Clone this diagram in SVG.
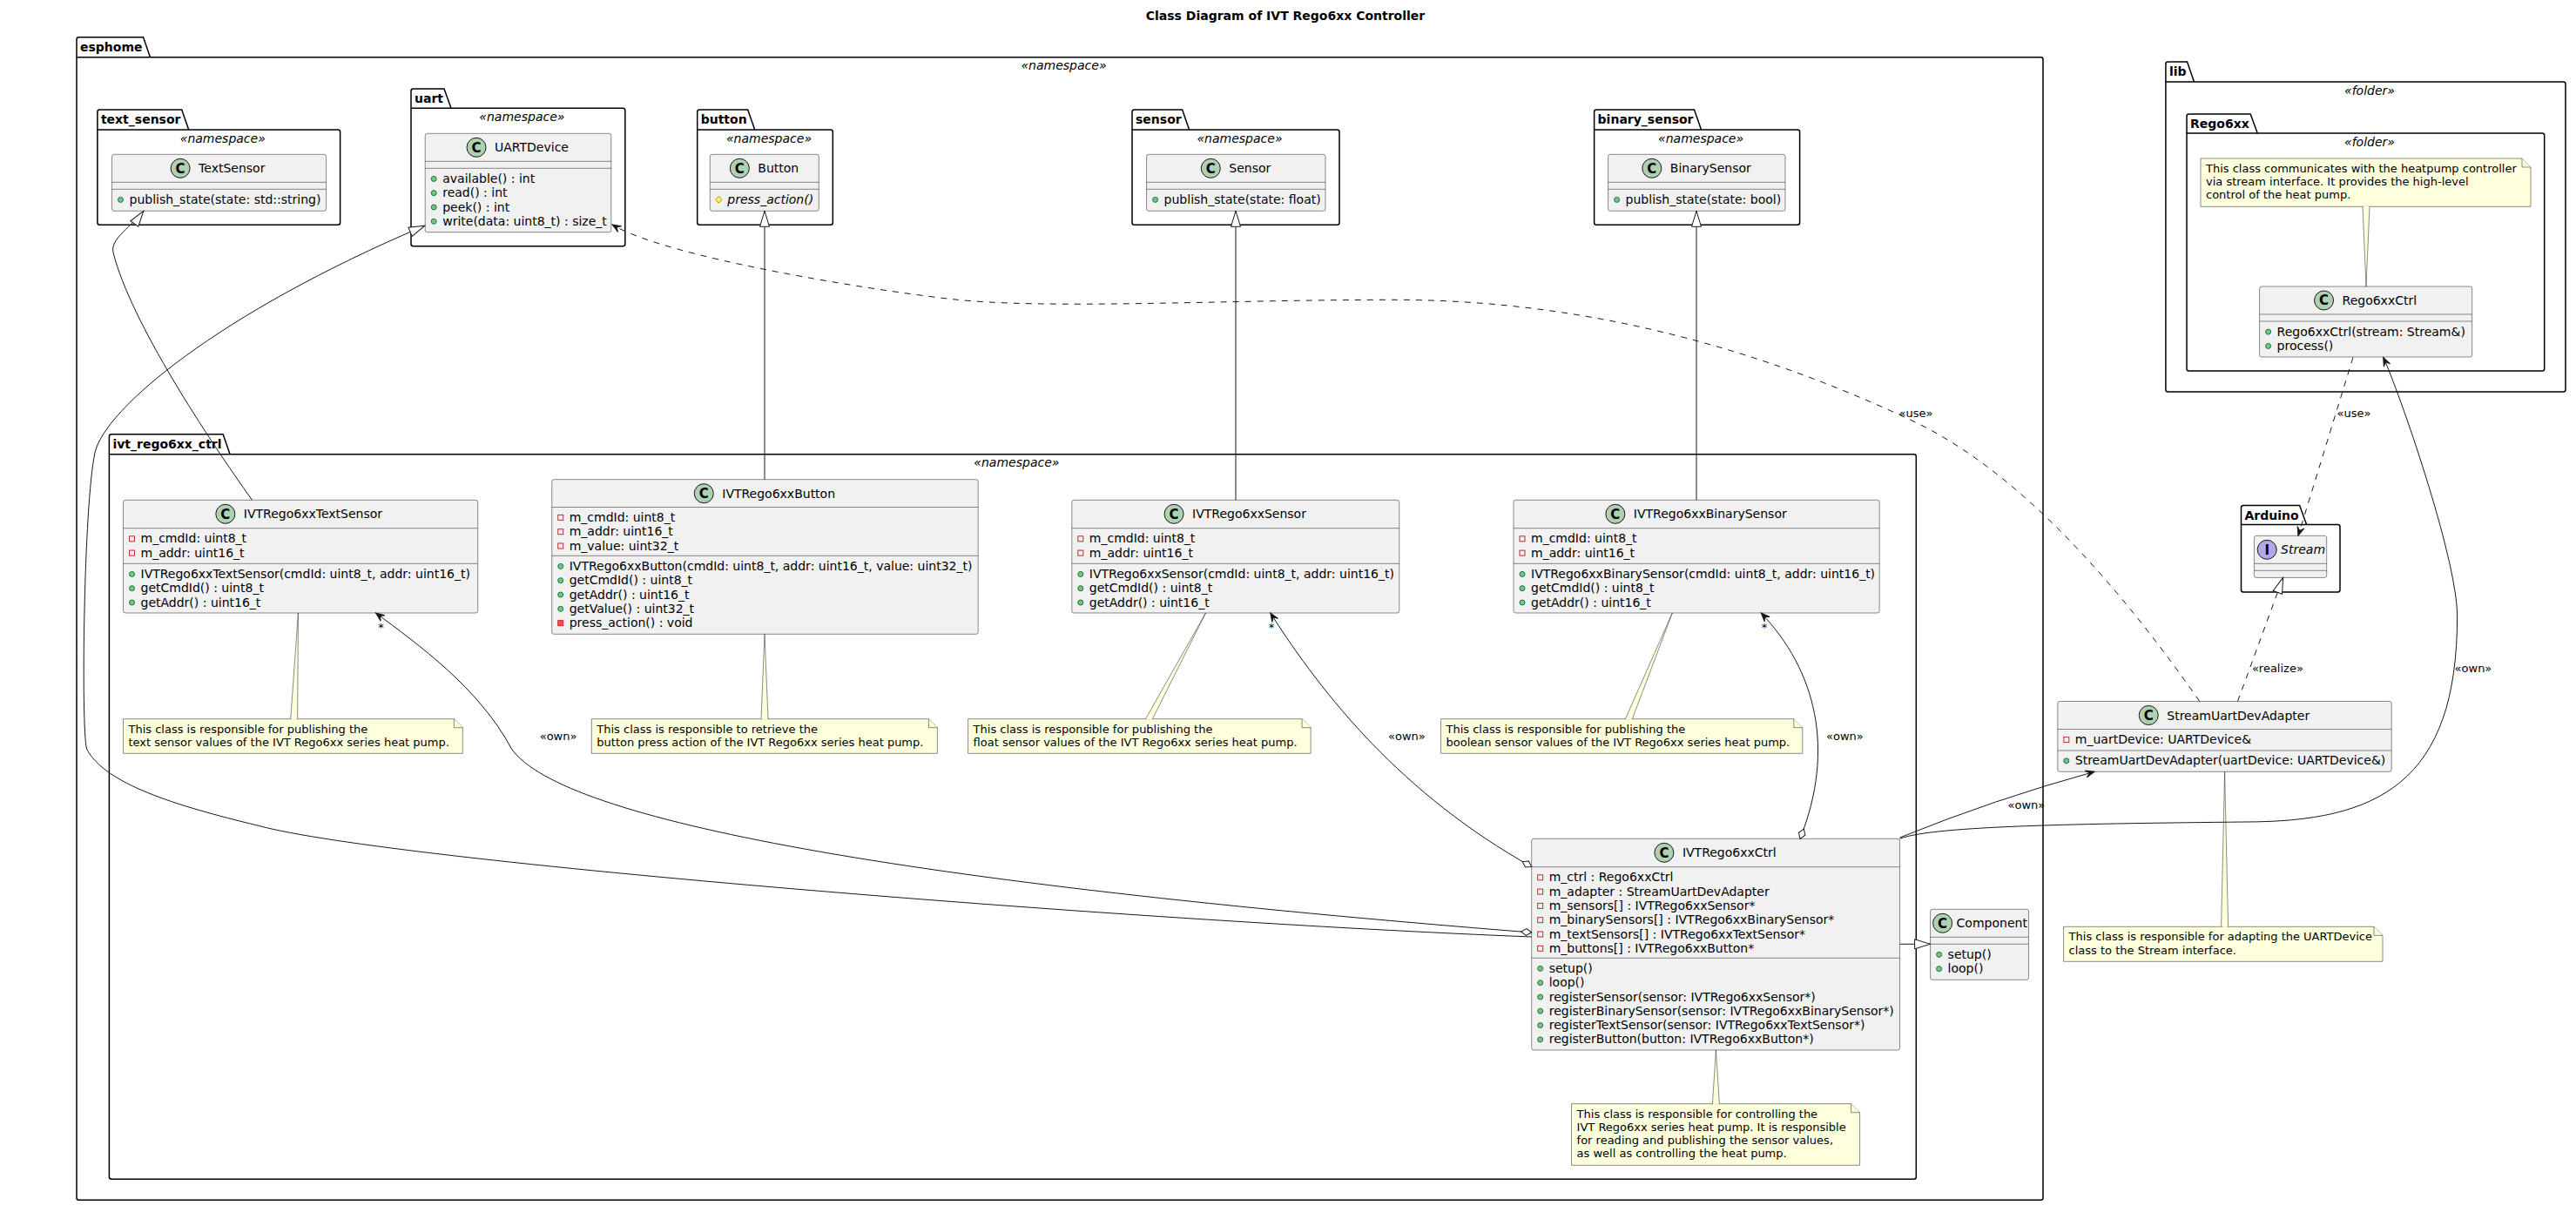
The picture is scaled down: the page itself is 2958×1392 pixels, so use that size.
<svg xmlns="http://www.w3.org/2000/svg" width="2958" height="1392" viewBox="0 0 2958 1392" font-family="'DejaVu Sans', sans-serif">
<style>
text{font-family:"DejaVu Sans",sans-serif;fill:#000}
.title{font-size:14px;font-weight:bold;text-anchor:middle}
.pkg{fill:none;stroke:#000;stroke-width:1.5}
.pkgname{font-size:14px;font-weight:bold}
.stereo{font-size:14px;font-style:italic;text-anchor:middle}
.cls{fill:#F1F1F1;stroke:#181818;stroke-width:0.5}
.sep{stroke:#181818;stroke-width:0.5}
.circ{fill:#ADD1B2;stroke:#181818;stroke-width:1}
.icirc{fill:#B4A7E5;stroke:#181818;stroke-width:1}
.cl{font-size:15px;font-weight:bold;text-anchor:middle}
.cname{font-size:14px}
.mem{font-size:14px}
.abs{font-style:italic}
.pub{fill:#84BE84;stroke:#038048;stroke-width:1}
.priv{fill:none;stroke:#C82930;stroke-width:1}
.privm{fill:#F24D5C;stroke:#C82930;stroke-width:1}
.prot{fill:#FFFF44;stroke:#B38D22;stroke-width:1}
.note{fill:#FEFFDD;stroke:#181818;stroke-width:0.5}
.wedge{fill:#FEFFDD;stroke:#181818;stroke-width:0.5}
.ntext{font-size:13px}
.edge{fill:none;stroke:#181818;stroke-width:1}
.dash{stroke-dasharray:7,7}
.lbl{font-size:13px}
.mult{font-size:13px;text-anchor:middle}
</style>
<defs>
<marker id="m-arrow" viewBox="-12 -6 14 12" refX="0" refY="0" markerWidth="14" markerHeight="12" markerUnits="userSpaceOnUse" orient="auto"><path d="M0,0 L-10,-4 L-6,0 L-10,4 Z" fill="#181818" stroke="#181818" stroke-width="1" stroke-linejoin="miter"/></marker>
<marker id="m-tri" viewBox="-20 -8 22 16" refX="0" refY="0" markerWidth="22" markerHeight="16" markerUnits="userSpaceOnUse" orient="auto"><path d="M0,0 L-18,-5.5 L-18,5.5 Z" fill="#ffffff" stroke="#181818" stroke-width="1"/></marker>
<marker id="m-dia" viewBox="-2 -6 16 12" refX="0" refY="0" markerWidth="16" markerHeight="12" markerUnits="userSpaceOnUse" orient="auto"><path d="M0,0 L6,-4 L12,0 L6,4 Z" fill="#ffffff" stroke="#181818" stroke-width="1"/></marker>
<circle id="i-pub" r="3" class="pub"/>
<rect id="i-priv" x="-3" y="-3" width="6" height="6" class="priv"/>
<rect id="i-privm" x="-3" y="-3" width="6" height="6" class="privm"/>
<polygon id="i-prot" points="0,-4 3.5,0 0,4 -3.5,0" class="prot"/>
</defs>
<rect x="0" y="0" width="2958" height="1392" fill="#ffffff"/>
<text class="title" x="1476" y="23.3">Class Diagram of IVT Rego6xx Controller</text>

<g id="packages">
<g id="pkg-esphome">
<path class="pkg" d="M88,65.7 V45.2 Q88,42.7 90.5,42.7 H164.5 L172.5,65.7"/>
<path class="pkg" d="M88,65.7 H2343.5 Q2346,65.7 2346,68.2 V1375.8 Q2346,1378.3 2343.5,1378.3 H90.5 Q88,1378.3 88,1375.8 Z"/>
<text class="pkgname" x="92" y="58.7">esphome</text>
<text class="stereo" x="1221.5" y="80.2">«namespace»</text>
</g>
<g id="pkg-text_sensor">
<path class="pkg" d="M111.9,149 V128.5 Q111.9,126 114.4,126 H208.7 L216.7,149"/>
<path class="pkg" d="M111.9,149 H388.1 Q390.6,149 390.6,151.5 V255.8 Q390.6,258.3 388.1,258.3 H114.4 Q111.9,258.3 111.9,255.8 Z"/>
<text class="pkgname" x="115.9" y="142">text_sensor</text>
<text class="stereo" x="255.8" y="163.5">«namespace»</text>
</g>
<g id="pkg-uart">
<path class="pkg" d="M472,124.3 V104.5 Q472,102 474.5,102 H510 L518,124.3"/>
<path class="pkg" d="M472,124.3 H715.3 Q717.8,124.3 717.8,126.8 V280.2 Q717.8,282.7 715.3,282.7 H474.5 Q472,282.7 472,280.2 Z"/>
<text class="pkgname" x="476" y="118">uart</text>
<text class="stereo" x="599.4" y="138.8">«namespace»</text>
</g>
<g id="pkg-button">
<path class="pkg" d="M800.7,149 V128.5 Q800.7,126 803.2,126 H858.7 L866.7,149"/>
<path class="pkg" d="M800.7,149 H953.8 Q956.3,149 956.3,151.5 V255.8 Q956.3,258.3 953.8,258.3 H803.2 Q800.7,258.3 800.7,255.8 Z"/>
<text class="pkgname" x="804.7" y="142">button</text>
<text class="stereo" x="883" y="163.5">«namespace»</text>
</g>
<g id="pkg-sensor">
<path class="pkg" d="M1300,149 V128.5 Q1300,126 1302.5,126 H1357.6 L1365.6,149"/>
<path class="pkg" d="M1300,149 H1535.5 Q1538,149 1538,151.5 V255.8 Q1538,258.3 1535.5,258.3 H1302.5 Q1300,258.3 1300,255.8 Z"/>
<text class="pkgname" x="1304" y="142">sensor</text>
<text class="stereo" x="1423.5" y="163.5">«namespace»</text>
</g>
<g id="pkg-binary_sensor">
<path class="pkg" d="M1830.6,149 V128.5 Q1830.6,126 1833.1,126 H1945.5 L1953.5,149"/>
<path class="pkg" d="M1830.6,149 H2064.1 Q2066.6,149 2066.6,151.5 V255.8 Q2066.6,258.3 2064.1,258.3 H1833.1 Q1830.6,258.3 1830.6,255.8 Z"/>
<text class="pkgname" x="1834.6" y="142">binary_sensor</text>
<text class="stereo" x="1953.1" y="163.5">«namespace»</text>
</g>
<g id="pkg-ivt_rego6xx_ctrl">
<path class="pkg" d="M125.4,521.7 V501.2 Q125.4,498.7 127.9,498.7 H256.1 L264.1,521.7"/>
<path class="pkg" d="M125.4,521.7 H2197.8 Q2200.3,521.7 2200.3,524.2 V1351.8 Q2200.3,1354.3 2197.8,1354.3 H127.9 Q125.4,1354.3 125.4,1351.8 Z"/>
<text class="pkgname" x="129.4" y="514.7">ivt_rego6xx_ctrl</text>
<text class="stereo" x="1167.4" y="536.2">«namespace»</text>
</g>
<g id="pkg-lib">
<path class="pkg" d="M2486.9,94 V73.5 Q2486.9,71 2489.4,71 H2511.5 L2519.5,94"/>
<path class="pkg" d="M2486.9,94 H2943.5 Q2946,94 2946,96.5 V447.5 Q2946,450 2943.5,450 H2489.4 Q2486.9,450 2486.9,447.5 Z"/>
<text class="pkgname" x="2490.9" y="87">lib</text>
<text class="stereo" x="2721" y="108.5">«folder»</text>
</g>
<g id="pkg-Rego6xx">
<path class="pkg" d="M2511,153 V133.5 Q2511,131 2513.5,131 H2584.2 L2592.2,153"/>
<path class="pkg" d="M2511,153 H2919.2 Q2921.7,153 2921.7,155.5 V423.5 Q2921.7,426 2919.2,426 H2513.5 Q2511,426 2511,423.5 Z"/>
<text class="pkgname" x="2515" y="147">Rego6xx</text>
<text class="stereo" x="2721" y="167.5">«folder»</text>
</g>
<g id="pkg-Arduino">
<path class="pkg" d="M2573.5,602.4 V583 Q2573.5,580.5 2576,580.5 H2640.6 L2648.6,602.4"/>
<path class="pkg" d="M2573.5,602.4 H2684.5 Q2687,602.4 2687,604.9 V677.5 Q2687,680 2684.5,680 H2576 Q2573.5,680 2573.5,677.5 Z"/>
<text class="pkgname" x="2577.5" y="596.5">Arduino</text>
</g>
</g>

<g id="cls-TextSensor">
<rect class="cls" x="128.5" y="177.3" width="246.1" height="65" rx="2.5"/>
<line class="sep" x1="128.5" y1="209.3" x2="374.6" y2="209.3"/>
<line class="sep" x1="128.5" y1="217.3" x2="374.6" y2="217.3"/>
<circle class="circ" cx="207.1" cy="193.3" r="11"/>
<text class="cl" x="207.1" y="198.6">C</text>
<text class="cname" x="228.1" y="198.3">TextSensor</text>
<use href="#i-pub" x="138.5" y="229.4"/>
<text class="mem" x="148.5" y="233.9">publish_state(state: std::string)</text>
</g>

<g id="cls-UARTDevice">
<rect class="cls" x="488.2" y="153.3" width="213.6" height="113.4" rx="2.5"/>
<line class="sep" x1="488.2" y1="185.3" x2="701.8" y2="185.3"/>
<line class="sep" x1="488.2" y1="193.3" x2="701.8" y2="193.3"/>
<circle class="circ" cx="547" cy="169.3" r="11"/>
<text class="cl" x="547" y="174.6">C</text>
<text class="cname" x="568" y="174.3">UARTDevice</text>
<use href="#i-pub" x="498.2" y="205.4"/>
<text class="mem" x="508.2" y="209.9">available() : int</text>
<use href="#i-pub" x="498.2" y="221.7"/>
<text class="mem" x="508.2" y="226.2">read() : int</text>
<use href="#i-pub" x="498.2" y="238"/>
<text class="mem" x="508.2" y="242.5">peek() : int</text>
<use href="#i-pub" x="498.2" y="254.3"/>
<text class="mem" x="508.2" y="258.8">write(data: uint8_t) : size_t</text>
</g>

<g id="cls-Button">
<rect class="cls" x="815.3" y="177.3" width="125" height="65" rx="2.5"/>
<line class="sep" x1="815.3" y1="209.3" x2="940.3" y2="209.3"/>
<line class="sep" x1="815.3" y1="217.3" x2="940.3" y2="217.3"/>
<circle class="circ" cx="849.35" cy="193.3" r="11"/>
<text class="cl" x="849.35" y="198.6">C</text>
<text class="cname" x="870.35" y="198.3">Button</text>
<use href="#i-prot" x="825.3" y="229.4"/>
<text class="mem abs" x="835.3" y="233.9">press_action()</text>
</g>

<g id="cls-Sensor">
<rect class="cls" x="1316.6" y="177.3" width="205.4" height="65" rx="2.5"/>
<line class="sep" x1="1316.6" y1="209.3" x2="1522" y2="209.3"/>
<line class="sep" x1="1316.6" y1="217.3" x2="1522" y2="217.3"/>
<circle class="circ" cx="1390.3" cy="193.3" r="11"/>
<text class="cl" x="1390.3" y="198.6">C</text>
<text class="cname" x="1411.3" y="198.3">Sensor</text>
<use href="#i-pub" x="1326.6" y="229.4"/>
<text class="mem" x="1336.6" y="233.9">publish_state(state: float)</text>
</g>

<g id="cls-BinarySensor">
<rect class="cls" x="1846.6" y="177.3" width="203.4" height="65" rx="2.5"/>
<line class="sep" x1="1846.6" y1="209.3" x2="2050" y2="209.3"/>
<line class="sep" x1="1846.6" y1="217.3" x2="2050" y2="217.3"/>
<circle class="circ" cx="1896.8" cy="193.3" r="11"/>
<text class="cl" x="1896.8" y="198.6">C</text>
<text class="cname" x="1917.8" y="198.3">BinarySensor</text>
<use href="#i-pub" x="1856.6" y="229.4"/>
<text class="mem" x="1866.6" y="233.9">publish_state(state: bool)</text>
</g>

<g id="cls-IVTRego6xxTextSensor">
<rect class="cls" x="141.5" y="574.3" width="407.2" height="129.7" rx="2.5"/>
<line class="sep" x1="141.5" y1="606.7" x2="548.7" y2="606.7"/>
<line class="sep" x1="141.5" y1="647.3" x2="548.7" y2="647.3"/>
<circle class="circ" cx="258.85" cy="590.3" r="11"/>
<text class="cl" x="258.85" y="595.6">C</text>
<text class="cname" x="279.85" y="595.3">IVTRego6xxTextSensor</text>
<use href="#i-priv" x="151.5" y="618.8"/>
<text class="mem" x="161.5" y="623.3">m_cmdId: uint8_t</text>
<use href="#i-priv" x="151.5" y="635.1"/>
<text class="mem" x="161.5" y="639.6">m_addr: uint16_t</text>
<use href="#i-pub" x="151.5" y="659.4"/>
<text class="mem" x="161.5" y="663.9">IVTRego6xxTextSensor(cmdId: uint8_t, addr: uint16_t)</text>
<use href="#i-pub" x="151.5" y="675.7"/>
<text class="mem" x="161.5" y="680.2">getCmdId() : uint8_t</text>
<use href="#i-pub" x="151.5" y="692"/>
<text class="mem" x="161.5" y="696.5">getAddr() : uint16_t</text>
</g>

<g id="cls-IVTRego6xxButton">
<rect class="cls" x="633.7" y="550.7" width="489.5" height="177.6" rx="2.5"/>
<line class="sep" x1="633.7" y1="582.5" x2="1123.2" y2="582.5"/>
<line class="sep" x1="633.7" y1="638.3" x2="1123.2" y2="638.3"/>
<circle class="circ" cx="808.25" cy="566.7" r="11"/>
<text class="cl" x="808.25" y="572">C</text>
<text class="cname" x="829.25" y="571.7">IVTRego6xxButton</text>
<use href="#i-priv" x="643.7" y="594.4"/>
<text class="mem" x="653.7" y="598.9">m_cmdId: uint8_t</text>
<use href="#i-priv" x="643.7" y="610.7"/>
<text class="mem" x="653.7" y="615.2">m_addr: uint16_t</text>
<use href="#i-priv" x="643.7" y="627"/>
<text class="mem" x="653.7" y="631.5">m_value: uint32_t</text>
<use href="#i-pub" x="643.7" y="650.4"/>
<text class="mem" x="653.7" y="654.9">IVTRego6xxButton(cmdId: uint8_t, addr: uint16_t, value: uint32_t)</text>
<use href="#i-pub" x="643.7" y="666.7"/>
<text class="mem" x="653.7" y="671.2">getCmdId() : uint8_t</text>
<use href="#i-pub" x="643.7" y="683"/>
<text class="mem" x="653.7" y="687.5">getAddr() : uint16_t</text>
<use href="#i-pub" x="643.7" y="699.3"/>
<text class="mem" x="653.7" y="703.8">getValue() : uint32_t</text>
<use href="#i-privm" x="643.7" y="715.6"/>
<text class="mem" x="653.7" y="720.1">press_action() : void</text>
</g>

<g id="cls-IVTRego6xxSensor">
<rect class="cls" x="1230.8" y="574.3" width="376" height="129.7" rx="2.5"/>
<line class="sep" x1="1230.8" y1="606.7" x2="1606.8" y2="606.7"/>
<line class="sep" x1="1230.8" y1="647.3" x2="1606.8" y2="647.3"/>
<circle class="circ" cx="1348.05" cy="590.3" r="11"/>
<text class="cl" x="1348.05" y="595.6">C</text>
<text class="cname" x="1369.05" y="595.3">IVTRego6xxSensor</text>
<use href="#i-priv" x="1240.8" y="618.8"/>
<text class="mem" x="1250.8" y="623.3">m_cmdId: uint8_t</text>
<use href="#i-priv" x="1240.8" y="635.1"/>
<text class="mem" x="1250.8" y="639.6">m_addr: uint16_t</text>
<use href="#i-pub" x="1240.8" y="659.4"/>
<text class="mem" x="1250.8" y="663.9">IVTRego6xxSensor(cmdId: uint8_t, addr: uint16_t)</text>
<use href="#i-pub" x="1240.8" y="675.7"/>
<text class="mem" x="1250.8" y="680.2">getCmdId() : uint8_t</text>
<use href="#i-pub" x="1240.8" y="692"/>
<text class="mem" x="1250.8" y="696.5">getAddr() : uint16_t</text>
</g>

<g id="cls-IVTRego6xxBinarySensor">
<rect class="cls" x="1738" y="574.3" width="420.2" height="129.7" rx="2.5"/>
<line class="sep" x1="1738" y1="606.7" x2="2158.2" y2="606.7"/>
<line class="sep" x1="1738" y1="647.3" x2="2158.2" y2="647.3"/>
<circle class="circ" cx="1854.85" cy="590.3" r="11"/>
<text class="cl" x="1854.85" y="595.6">C</text>
<text class="cname" x="1875.85" y="595.3">IVTRego6xxBinarySensor</text>
<use href="#i-priv" x="1748" y="618.8"/>
<text class="mem" x="1758" y="623.3">m_cmdId: uint8_t</text>
<use href="#i-priv" x="1748" y="635.1"/>
<text class="mem" x="1758" y="639.6">m_addr: uint16_t</text>
<use href="#i-pub" x="1748" y="659.4"/>
<text class="mem" x="1758" y="663.9">IVTRego6xxBinarySensor(cmdId: uint8_t, addr: uint16_t)</text>
<use href="#i-pub" x="1748" y="675.7"/>
<text class="mem" x="1758" y="680.2">getCmdId() : uint8_t</text>
<use href="#i-pub" x="1748" y="692"/>
<text class="mem" x="1758" y="696.5">getAddr() : uint16_t</text>
</g>

<g id="cls-IVTRego6xxCtrl">
<rect class="cls" x="1758.7" y="963.3" width="422.8" height="242.7" rx="2.5"/>
<line class="sep" x1="1758.7" y1="995.7" x2="2181.5" y2="995.7"/>
<line class="sep" x1="1758.7" y1="1100.3" x2="2181.5" y2="1100.3"/>
<circle class="circ" cx="1910.9" cy="979.3" r="11"/>
<text class="cl" x="1910.9" y="984.6">C</text>
<text class="cname" x="1931.9" y="984.3">IVTRego6xxCtrl</text>
<use href="#i-priv" x="1768.7" y="1007.8"/>
<text class="mem" x="1778.7" y="1012.3">m_ctrl : Rego6xxCtrl</text>
<use href="#i-priv" x="1768.7" y="1024.1"/>
<text class="mem" x="1778.7" y="1028.6">m_adapter : StreamUartDevAdapter</text>
<use href="#i-priv" x="1768.7" y="1040.4"/>
<text class="mem" x="1778.7" y="1044.9">m_sensors[] : IVTRego6xxSensor*</text>
<use href="#i-priv" x="1768.7" y="1056.7"/>
<text class="mem" x="1778.7" y="1061.2">m_binarySensors[] : IVTRego6xxBinarySensor*</text>
<use href="#i-priv" x="1768.7" y="1073"/>
<text class="mem" x="1778.7" y="1077.5">m_textSensors[] : IVTRego6xxTextSensor*</text>
<use href="#i-priv" x="1768.7" y="1089.3"/>
<text class="mem" x="1778.7" y="1093.8">m_buttons[] : IVTRego6xxButton*</text>
<use href="#i-pub" x="1768.7" y="1112.4"/>
<text class="mem" x="1778.7" y="1116.9">setup()</text>
<use href="#i-pub" x="1768.7" y="1128.7"/>
<text class="mem" x="1778.7" y="1133.2">loop()</text>
<use href="#i-pub" x="1768.7" y="1145"/>
<text class="mem" x="1778.7" y="1149.5">registerSensor(sensor: IVTRego6xxSensor*)</text>
<use href="#i-pub" x="1768.7" y="1161.3"/>
<text class="mem" x="1778.7" y="1165.8">registerBinarySensor(sensor: IVTRego6xxBinarySensor*)</text>
<use href="#i-pub" x="1768.7" y="1177.6"/>
<text class="mem" x="1778.7" y="1182.1">registerTextSensor(sensor: IVTRego6xxTextSensor*)</text>
<use href="#i-pub" x="1768.7" y="1193.9"/>
<text class="mem" x="1778.7" y="1198.4">registerButton(button: IVTRego6xxButton*)</text>
</g>

<g id="cls-Component">
<rect class="cls" x="2216.6" y="1044.3" width="112.9" height="81" rx="2.5"/>
<line class="sep" x1="2216.6" y1="1076.3" x2="2329.5" y2="1076.3"/>
<line class="sep" x1="2216.6" y1="1084.3" x2="2329.5" y2="1084.3"/>
<circle class="circ" cx="2230.6" cy="1060.3" r="11"/>
<text class="cl" x="2230.6" y="1065.6">C</text>
<text class="cname" x="2246.6" y="1065.3">Component</text>
<use href="#i-pub" x="2226.6" y="1096.4"/>
<text class="mem" x="2236.6" y="1100.9">setup()</text>
<use href="#i-pub" x="2226.6" y="1112.7"/>
<text class="mem" x="2236.6" y="1117.2">loop()</text>
</g>

<g id="cls-Rego6xxCtrl">
<rect class="cls" x="2594.6" y="329" width="244.1" height="81" rx="2.5"/>
<line class="sep" x1="2594.6" y1="361" x2="2838.7" y2="361"/>
<line class="sep" x1="2594.6" y1="369" x2="2838.7" y2="369"/>
<circle class="circ" cx="2668.55" cy="345" r="11"/>
<text class="cl" x="2668.55" y="350.3">C</text>
<text class="cname" x="2689.55" y="350">Rego6xxCtrl</text>
<use href="#i-pub" x="2604.6" y="381.1"/>
<text class="mem" x="2614.6" y="385.6">Rego6xxCtrl(stream: Stream&amp;)</text>
<use href="#i-pub" x="2604.6" y="397.4"/>
<text class="mem" x="2614.6" y="401.9">process()</text>
</g>

<g id="cls-Stream">
<rect class="cls" x="2588.4" y="615.3" width="83.3" height="48.1" rx="2.5"/>
<line class="sep" x1="2588.4" y1="647.3" x2="2671.7" y2="647.3"/>
<line class="sep" x1="2588.4" y1="655.3" x2="2671.7" y2="655.3"/>
<circle class="icirc" cx="2603.2" cy="631.3" r="11"/>
<text class="cl" x="2603.2" y="636.6">I</text>
<text class="cname abs" x="2619.1" y="636.3">Stream</text>
</g>

<g id="cls-StreamUartDevAdapter">
<rect class="cls" x="2362.8" y="805.5" width="383.4" height="80.8" rx="2.5"/>
<line class="sep" x1="2362.8" y1="837.5" x2="2746.2" y2="837.5"/>
<line class="sep" x1="2362.8" y1="862" x2="2746.2" y2="862"/>
<circle class="circ" cx="2467.25" cy="821.5" r="11"/>
<text class="cl" x="2467.25" y="826.8">C</text>
<text class="cname" x="2488.25" y="826.5">StreamUartDevAdapter</text>
<use href="#i-priv" x="2372.8" y="849.6"/>
<text class="mem" x="2382.8" y="854.1">m_uartDevice: UARTDevice&amp;</text>
<use href="#i-pub" x="2372.8" y="873.8"/>
<text class="mem" x="2382.8" y="878.3">StreamUartDevAdapter(uartDevice: UARTDevice&amp;)</text>
</g>

<g id="note-Rego6xxCtrl">
<path class="note" d="M2527,182 H2896 L2906,192 V237.3 H2527 Z"/>
<path class="note" d="M2896,182 V192 H2906"/>
<path class="wedge" d="M2713,236.8 L2717,329 L2721,236.8"/>
<text class="ntext" x="2533" y="198">This class communicates with the heatpump controller</text>
<text class="ntext" x="2533" y="213.2">via stream interface. It provides the high-level</text>
<text class="ntext" x="2533" y="228.4">control of the heat pump.</text>
</g>

<g id="note-IVTRego6xxTextSensor">
<path class="note" d="M141.5,825.7 H521.3 L531.3,835.7 V865.3 H141.5 Z"/>
<path class="note" d="M521.3,825.7 V835.7 H531.3"/>
<path class="wedge" d="M333.7,826.2 L342.4,704 L341.7,826.2"/>
<text class="ntext" x="147.5" y="841.7">This class is responsible for publishing the</text>
<text class="ntext" x="147.5" y="856.9">text sensor values of the IVT Rego6xx series heat pump.</text>
</g>

<g id="note-IVTRego6xxButton">
<path class="note" d="M679.3,825.7 H1066.4 L1076.4,835.7 V865.3 H679.3 Z"/>
<path class="note" d="M1066.4,825.7 V835.7 H1076.4"/>
<path class="wedge" d="M874,826.2 L878,728.3 L882,826.2"/>
<text class="ntext" x="685.3" y="841.7">This class is responsible to retrieve the</text>
<text class="ntext" x="685.3" y="856.9">button press action of the IVT Rego6xx series heat pump.</text>
</g>

<g id="note-IVTRego6xxSensor">
<path class="note" d="M1111.6,825.7 H1495.1 L1505.1,835.7 V865.3 H1111.6 Z"/>
<path class="note" d="M1495.1,825.7 V835.7 H1505.1"/>
<path class="wedge" d="M1315.2,826.2 L1384.5,704 L1323.2,826.2"/>
<text class="ntext" x="1117.6" y="841.7">This class is responsible for publishing the</text>
<text class="ntext" x="1117.6" y="856.9">float sensor values of the IVT Rego6xx series heat pump.</text>
</g>

<g id="note-IVTRego6xxBinarySensor">
<path class="note" d="M1654.5,825.7 H2059.8 L2069.8,835.7 V865.3 H1654.5 Z"/>
<path class="note" d="M2059.8,825.7 V835.7 H2069.8"/>
<path class="wedge" d="M1866.2,826.2 L1920.3,704 L1874.2,826.2"/>
<text class="ntext" x="1660.5" y="841.7">This class is responsible for publishing the</text>
<text class="ntext" x="1660.5" y="856.9">boolean sensor values of the IVT Rego6xx series heat pump.</text>
</g>

<g id="note-IVTRego6xxCtrl">
<path class="note" d="M1804.6,1267.7 H2125.6 L2135.6,1277.7 V1338.3 H1804.6 Z"/>
<path class="note" d="M2125.6,1267.7 V1277.7 H2135.6"/>
<path class="wedge" d="M1966.4,1268.2 L1970.4,1206 L1974.4,1268.2"/>
<text class="ntext" x="1810.6" y="1283.7">This class is responsible for controlling the</text>
<text class="ntext" x="1810.6" y="1298.9">IVT Rego6xx series heat pump. It is responsible</text>
<text class="ntext" x="1810.6" y="1314.1">for reading and publishing the sensor values,</text>
<text class="ntext" x="1810.6" y="1329.3">as well as controlling the heat pump.</text>
</g>

<g id="note-StreamUartDevAdapter">
<path class="note" d="M2369.6,1064.3 H2726 L2736,1074.3 V1104.3 H2369.6 Z"/>
<path class="note" d="M2726,1064.3 V1074.3 H2736"/>
<path class="wedge" d="M2550.6,1064.8 L2554.6,886.3 L2558.6,1064.8"/>
<text class="ntext" x="2375.6" y="1080.3">This class is responsible for adapting the UARTDevice</text>
<text class="ntext" x="2375.6" y="1095.5">class to the Stream interface.</text>
</g>

<g id="connectors">
<path class="edge" d="M289.5,574.3 C240,505 150,370 130,290 C126,274 153.2,258.5 164.8,242.3" marker-end="url(#m-tri)"/>
<path class="edge" d="M1758.7,1076 C1300,1058 450,990 296.8,948.3 C200,925 120,900 99.5,860 C93,835 96,580 109,520 C120,470 250,360 487.6,259.3" marker-end="url(#m-tri)"/>
<path class="edge" d="M878,550.7 V242.3" marker-end="url(#m-tri)"/>
<path class="edge" d="M1419,574.3 V242.3" marker-end="url(#m-tri)"/>
<path class="edge" d="M1948,574.3 V242.3" marker-end="url(#m-tri)"/>
<path class="edge" d="M1758.7,1071 C1040,1014 645.6,943.1 587.4,860 C550,790 480,740 431.5,704" marker-start="url(#m-dia)" marker-end="url(#m-arrow)"/>
<path class="edge" d="M1758.7,995.5 C1610,912 1520,800 1458.8,704" marker-start="url(#m-dia)" marker-end="url(#m-arrow)"/>
<path class="edge" d="M2067,963.3 C2108,860 2085,770 2022.3,704" marker-start="url(#m-dia)" marker-end="url(#m-arrow)"/>
<path class="edge" d="M2181.5,962 Q2290,918 2405,886.3" marker-end="url(#m-arrow)"/>
<path class="edge" d="M2181.5,963.3 C2220,948 2400,946 2577,944 C2730,944 2822,900 2821.6,707 C2821.4,640 2753.7,446.6 2736.7,410.4" marker-end="url(#m-arrow)"/>
<path class="edge dash" d="M2525.8,805.5 C2409.9,639.6 2299.9,532.2 2196,483.3 C1998.9,390.6 1800.1,344.3 1599.8,344.3 C1400,344.3 1200,356 1090.3,343.3 C990.3,331.7 765.4,295.3 703,258" marker-end="url(#m-arrow)"/>
<path class="edge dash" d="M2702,410.4 L2639,615.3" marker-end="url(#m-arrow)"/>
<path class="edge dash" d="M2569.5,805.5 L2621.6,663.4" marker-end="url(#m-tri)"/>
<path class="edge" d="M2181.5,1084.3 H2216.6" marker-end="url(#m-tri)"/>
<text class="mult" x="437.5" y="725">*</text>
<text class="mult" x="1460" y="725">*</text>
<text class="mult" x="2026" y="725">*</text>
<text class="lbl" x="619.7" y="850">«own»</text>
<text class="lbl" x="1594" y="850">«own»</text>
<text class="lbl" x="2097" y="850">«own»</text>
<text class="lbl" x="2305.5" y="929">«own»</text>
<text class="lbl" x="2818.6" y="772">«own»</text>
<text class="lbl" x="2180.5" y="478.5">«use»</text>
<text class="lbl" x="2683.6" y="478.5">«use»</text>
<text class="lbl" x="2585.9" y="772">«realize»</text>
</g>
</svg>
